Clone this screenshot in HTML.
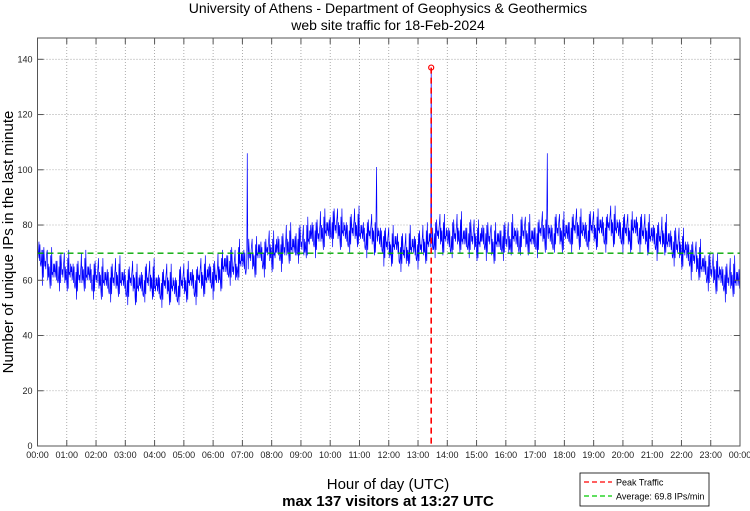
<!DOCTYPE html>
<html><head><meta charset="utf-8"><style>
body{margin:0;background:#fff;}
svg{display:block;font-family:"Liberation Sans",sans-serif;}
</style></head><body>
<svg id="chart" width="750" height="511">
<text x="388" y="13" font-size="14" text-anchor="middle">University of Athens - Department of Geophysics &amp; Geothermics</text>
<text x="388" y="30" font-size="14" text-anchor="middle">web site traffic for 18-Feb-2024</text>
<text transform="translate(13,242) rotate(-90)" font-size="15" text-anchor="middle">Number of unique IPs in the last minute</text>
<text x="388" y="489" font-size="15" text-anchor="middle">Hour of day (UTC)</text>
<text x="388" y="506" font-size="15" font-weight="bold" text-anchor="middle">max 137 visitors at 13:27 UTC</text>
<g id="grid"></g>
<g id="series"></g>
<g id="axes"></g>
<g>
<rect x="580" y="473" width="129" height="33" fill="#fff" stroke="#000" stroke-width="0.8"/>
<line x1="584" y1="482" x2="612" y2="482" stroke="#f00" stroke-dasharray="5,3" stroke-width="1.3"/>
<text x="616" y="485.5" font-size="9">Peak Traffic</text>
<line x1="584" y1="496" x2="612" y2="496" stroke="#0c0" stroke-dasharray="5,3" stroke-width="1.3"/>
<text x="616" y="499.5" font-size="9">Average: 69.8 IPs/min</text>
</g>
</svg>
<script>
const hourLabels=["00:00","01:00","02:00","03:00","04:00","05:00","06:00","07:00","08:00","09:00","10:00","11:00","12:00","13:00","14:00","15:00","16:00","17:00","18:00","19:00","20:00","21:00","22:00","23:00","00:00"];
const yTicks=[0,20,40,60,80,100,120,140];
const means10min=[70,66,64,63,64,63,63,62,61,63,62,61,61,60,60,60,61,60,59,60,58,59,60,60,58,58,59,58,57,59,59,60,59,61,61,62,61,63,65,66,64,67,67,69,68,70,69,71,70,72,71,73,72,74,73,75,77,76,78,78,80,79,78,77,78,79,77,76,77,76,75,73,72,73,71,70,72,72,72,73,74,76,77,76,75,76,77,75,76,75,74,76,75,73,74,75,74,76,75,77,76,75,76,78,77,76,78,77,77,78,79,78,77,79,78,79,78,80,79,78,78,77,79,78,77,76,76,75,76,74,73,72,71,70,68,67,65,64,63,62,61,60,61,60];
const noiseOffsets=[3,-5,1,-2,6,-4,0,2,-7,4,-1,5,-3,1,-6,3,-2,8,-4,2,-1,-5,4,0,-3,7,-2,1,-4,3,-8,2,0,5,-3];
const spikeMinutes=[430,695,1045];
const spikeValues=[106,101,106];
const peakMinute=807, peakValue=137, average=69.8;

const L=37.5,R=740,T=38,B=446,Y140=59.3;
const xs=m=>L+(R-L)*m/1440;
const ys=v=>B-(B-Y140)*v/140;
const NS="http://www.w3.org/2000/svg";
function mk(tag,attrs,parent){const e=document.createElementNS(NS,tag);for(const k in attrs)e.setAttribute(k,attrs[k]);parent.appendChild(e);return e;}
const grid=document.getElementById('grid'),axes=document.getElementById('axes'),series=document.getElementById('series');
mk('rect',{x:L,y:T,width:R-L,height:B-T,fill:'none',stroke:'#555','stroke-width':1},axes);
hourLabels.forEach((h,i)=>{const x=xs(i*60);
 if(i>0&&i<24){const g=mk('line',{x1:x,y1:T,x2:x,y2:B,stroke:'#999','stroke-dasharray':'1,2','stroke-width':0.8},grid);
 }
 mk('line',{x1:x,y1:B,x2:x,y2:B-6,stroke:'#555'},axes);mk('line',{x1:x,y1:T,x2:x,y2:T+6,stroke:'#555'},axes);
 const t=mk('text',{x:x,y:B+12,'font-size':9,'text-anchor':'middle',fill:'#222'},axes);t.textContent=h;
 });
yTicks.forEach(v=>{const y=ys(v);
 if(v>0){const g=mk('line',{x1:L,y1:y,x2:R,y2:y,stroke:'#999','stroke-dasharray':'1,2','stroke-width':0.8},grid);
 }
 mk('line',{x1:L,y1:y,x2:L+6,y2:y,stroke:'#555'},axes);mk('line',{x1:R,y1:y,x2:R-6,y2:y,stroke:'#555'},axes);
 const t=mk('text',{x:L-5,y:y+3,'font-size':9,'text-anchor':'end',fill:'#222'},axes);t.textContent=v;
 });
let pts=[];
means10min.forEach((m,i)=>{for(let k=0;k<10;k++){const min=i*10+k;let v=m+noiseOffsets[(min*3)%noiseOffsets.length];
 const si=spikeMinutes.indexOf(min);if(si>=0)v=spikeValues[si];if(min===peakMinute)v=peakValue;
 pts.push(xs(min).toFixed(2)+','+ys(v).toFixed(2));}});
const pl=mk('polyline',{points:pts.join(' '),fill:'none',stroke:'#00f','stroke-width':0.7},series);

const av=mk('line',{x1:L,y1:ys(average),x2:R,y2:ys(average),stroke:'#0a0','stroke-dasharray':'6,4','stroke-width':1.3},series);

const pk=mk('line',{x1:xs(peakMinute),y1:ys(peakValue),x2:xs(peakMinute),y2:B,stroke:'#f00','stroke-dasharray':'6,4','stroke-width':1.6},series);

const pc=mk('circle',{cx:xs(peakMinute),cy:ys(peakValue),r:2.5,fill:'none',stroke:'#f00','stroke-width':1.2},series);

</script>
</body></html>
